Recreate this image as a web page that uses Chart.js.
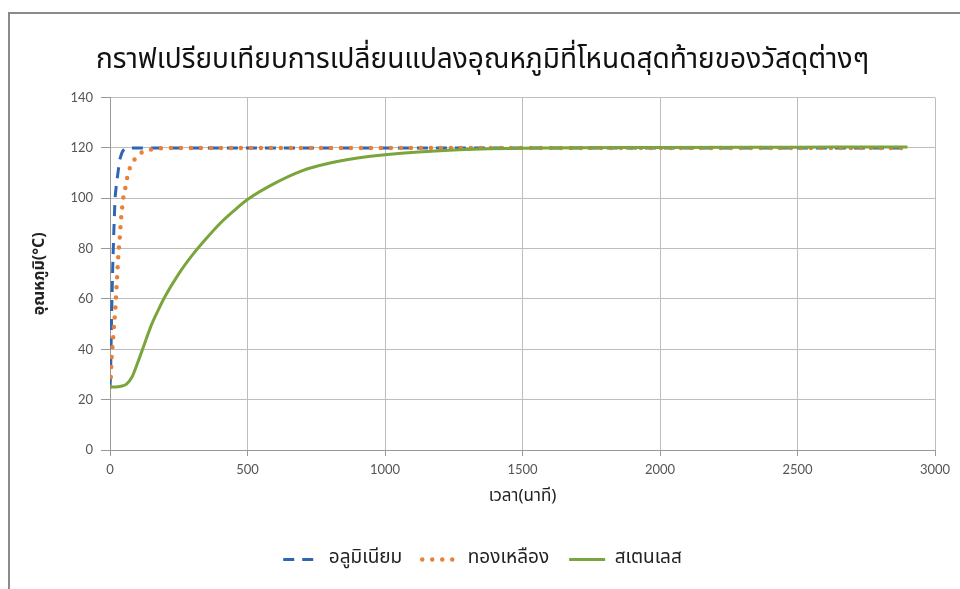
<!DOCTYPE html>
<html>
<head>
<meta charset="utf-8">
<script src="https://cdn.jsdelivr.net/npm/chart.js@4"></script>
<style>
  html, body { margin: 0; padding: 0; background: #fff; }
  #wrap { position: relative; width: 960px; height: 589px; overflow: hidden; }
  #frame { position: absolute; left: 8px; top: 12px; width: 980px; height: 600px;
           border-left: 2px solid #8a8a8a; border-top: 2px solid #8a8a8a; pointer-events: none; }
</style>
</head>
<body>
<div id="wrap">
  <canvas id="c" width="960" height="589"></canvas>
  <div id="frame"></div>
</div>
<script>
// Temperature (°C) against time (minutes) for three materials
const titleText = 'กราฟเปรียบเทียบการเปลี่ยนแปลงอุณหภูมิที่โหนดสุดท้ายของวัสดุต่างๆ';
const xTitle = 'เวลา(นาที)';
const yTitle = 'อุณหภูมิ(°C)';
const seriesNames = ['อลูมิเนียม', 'ทองเหลือง', 'สเตนเลส'];

const aluminiumTime = [0, 2, 4, 6, 8, 10, 12, 14, 16, 18, 21, 24, 27, 30, 33, 36, 40, 45, 50, 55, 60, 70, 80, 100, 200, 500, 1000, 1500, 2000, 2500, 2900];
const aluminiumTemp = [25, 30, 42, 54, 64, 73, 80, 87, 93, 99, 103, 106, 108.5, 111, 113.5, 115.5, 117, 118.5, 119.2, 119.6, 119.8, 120, 120, 120, 120, 120, 120, 120, 120, 120, 120];

const brassTime = [0, 3, 6, 9, 12, 15, 18, 21, 24, 27, 30, 33, 36, 39, 42, 45, 48, 54, 60, 66, 72, 80, 90, 100, 110, 120, 135, 155, 180, 220, 500, 1000, 1500, 2000, 2500, 2900];
const brassTemp = [25, 29, 37, 41, 45.5, 50, 54, 59, 65, 71, 77, 81, 85, 90, 94, 97, 100, 103, 107, 109.5, 112, 114, 115.5, 116.8, 117.8, 118.5, 119.1, 119.5, 119.8, 120, 120, 120, 120, 120, 120, 120];

const steelTime = [0, 20, 40, 60, 80, 100, 125, 150, 175, 200, 250, 300, 350, 400, 450, 500, 600, 700, 800, 900, 1000, 1250, 1500, 2000, 2500, 2900];
const steelTemp = [25, 25, 25.3, 26.2, 29, 34.5, 42, 49.5, 55.5, 61, 70, 77.5, 84, 90, 95, 99.5, 106, 111, 114, 116, 117.3, 119.2, 119.9, 120.2, 120.3, 120.4];

const xTicks = [0, 500, 1000, 1500, 2000, 2500, 3000];
const yTicks = [0, 20, 40, 60, 80, 100, 120, 140];

const pairs = (xs, ys) => xs.map((x, i) => ({ x: x, y: ys[i] }));

const thaiFont = '"Noto Sans Thai", "Tahoma", "Noto Sans", sans-serif';
const numFont = 'Lato, "Noto Sans Thai", "Noto Sans", sans-serif';

new Chart(document.getElementById('c'), {
  type: 'line',
  data: {
    datasets: [
      {
        label: seriesNames[0],
        data: pairs(aluminiumTime, aluminiumTemp),
        borderColor: '#2f66b3',
        backgroundColor: '#2f66b3',
        borderWidth: 3,
        borderDash: [11, 8],
        borderCapStyle: 'butt',
        pointRadius: 0,
        cubicInterpolationMode: 'monotone',
        order: 2
      },
      {
        label: seriesNames[1],
        data: pairs(brassTime, brassTemp),
        borderColor: '#e8803a',
        backgroundColor: '#e8803a',
        borderWidth: 4.5,
        borderDash: [0, 10],
        borderCapStyle: 'round',
        pointRadius: 0,
        cubicInterpolationMode: 'monotone',
        order: 1
      },
      {
        label: seriesNames[2],
        data: pairs(steelTime, steelTemp),
        borderColor: '#7aa53c',
        backgroundColor: '#7aa53c',
        borderWidth: 3,
        pointRadius: 0,
        cubicInterpolationMode: 'monotone',
        order: 0
      }
    ]
  },
  options: {
    responsive: false,
    animation: false,
    layout: { padding: { left: 30, right: 25, top: 0, bottom: 10 } },
    plugins: {
      title: {
        display: true,
        text: titleText,
        color: '#111',
        font: { family: thaiFont, size: 28, weight: 'normal' },
        padding: { top: 46, bottom: 18 }
      },
      legend: {
        position: 'bottom',
        labels: {
          usePointStyle: true,
          pointStyle: 'line',
          pointStyleWidth: 36,
          color: '#222',
          padding: 20,
          font: { family: thaiFont, size: 19 },
          sort: (a, b) => a.datasetIndex - b.datasetIndex,
          // legend samples use each series' own line width, dash and cap
          generateLabels: (chart) => {
            const items = Chart.defaults.plugins.legend.labels.generateLabels(chart);
            items.forEach(item => {
              const ds = chart.data.datasets[item.datasetIndex];
              item.lineWidth = ds.borderWidth;
              item.lineDash = ds.borderDash || [];
              item.lineCap = ds.borderCapStyle || 'butt';
              item.strokeStyle = ds.borderColor;
            });
            return items;
          }
        }
      },
      tooltip: { enabled: false }
    },
    scales: {
      x: {
        type: 'linear',
        min: 0,
        max: 3000,
        afterBuildTicks: (s) => { s.ticks = xTicks.map(v => ({ value: v })); },
        afterFit: (s) => { s.height = 80; },
        ticks: { color: '#555', font: { family: numFont, size: 13 }, padding: 6,
                 callback: (v) => String(v) },
        grid: { color: '#bdbdbd', tickLength: 6, tickColor: '#999' },
        border: { color: '#999' },
        title: {
          display: true,
          text: xTitle,
          color: '#222',
          font: { family: thaiFont, size: 17 },
          padding: { top: 0, bottom: 22 }
        }
      },
      y: {
        min: 0,
        max: 140,
        afterBuildTicks: (s) => { s.ticks = yTicks.map(v => ({ value: v })); },
        afterFit: (s) => { s.width = 80; },
        ticks: { color: '#555', font: { family: numFont, size: 13 }, padding: 8 },
        grid: { color: '#bdbdbd', tickLength: 9, tickColor: '#999' },
        border: { color: '#999' },
        title: {
          display: true,
          text: yTitle,
          color: '#222',
          font: { family: thaiFont, size: 16, weight: 'bold' },
          padding: { top: 1, bottom: 0 }
        }
      }
    }
  }
});
</script>
</body>
</html>
